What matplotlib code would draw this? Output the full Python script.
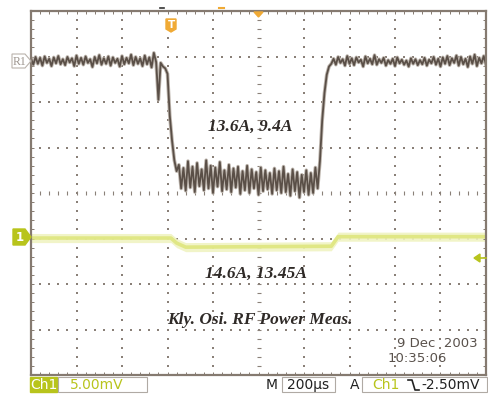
import numpy as np
import matplotlib
matplotlib.use("Agg")
import matplotlib.pyplot as plt
from matplotlib.patches import Rectangle, Polygon

# time base: 200 us/div, 10 divisions, one sample every 10 us
sample_step_us = 10

# reference trace R1 (vertical position in divisions)
r1_before = [2.96, 2.82, 2.99, 2.84, 2.97, 2.80, 3.00, 2.86, 2.95, 2.79, 2.98, 2.85, 3.01, 2.83, 2.94, 2.81, 2.99, 2.87, 2.96, 2.79,
             3.02, 2.84, 2.97, 2.82, 3.00, 2.86, 2.94, 2.77, 2.99, 2.85, 3.03, 2.82, 2.96, 2.84, 3.00, 2.80, 2.98, 2.86, 2.95, 2.78,
             3.01, 2.83, 2.97, 2.85, 3.04, 2.81, 2.99, 2.84, 2.96, 2.79, 3.02, 2.83, 2.98, 2.76, 3.08]
r1_fall = [2.88, 2.05, 2.86, 2.78, 2.74, 2.62, 1.70, 1.15, 0.72, 0.48]
r1_low = [0.62, 0.10, 0.55, 0.05, 0.70, 0.12, 0.58, 0.02, 0.66, 0.15, 0.52, 0.06, 0.72, 0.10, 0.60, 0.00, 0.56, 0.14, 0.68, 0.04,
          0.50, 0.08, 0.62, 0.02, 0.54, 0.12, 0.58, -0.02, 0.48, 0.06, 0.60, 0.00, 0.52, 0.10, 0.46, -0.04, 0.56, 0.04, 0.50, 0.08,
          0.44, -0.02, 0.54, 0.06, 0.48, 0.00, 0.58, 0.02, 0.42, -0.06, 0.52, 0.04, 0.46, -0.10, 0.40, 0.02, 0.50, -0.04, 0.44, 0.00,
          0.56, 0.10]
r1_rise = [0.70, 1.60, 2.20, 2.60, 2.78]
r1_after = [2.84, 2.95, 2.82, 2.99, 2.86, 2.94, 2.80, 3.01, 2.84, 2.96, 2.81, 2.98, 2.87, 2.93, 2.78, 3.00, 2.85, 2.95, 2.83, 3.03,
            2.82, 2.94, 2.86, 2.97, 2.80, 2.92, 2.84, 2.95, 2.79, 2.98, 2.85, 2.93, 2.82, 2.91, 2.78, 2.96, 2.84, 2.94, 2.81, 2.92,
            2.83, 2.97, 2.80, 2.93, 2.85, 2.99, 2.82, 2.95, 2.78, 2.98, 2.84, 3.01, 2.81, 2.96, 2.86, 3.02, 2.80, 2.99, 2.83, 2.95,
            2.77, 3.00, 2.84, 3.04, 2.79, 2.97, 2.85, 3.01, 2.82]

# channel 1 trace (divisions), breakpoints
ch1_t = [0, 615, 640, 680, 1320, 1350, 2000]
ch1_v = [-0.99, -0.99, -1.10, -1.19, -1.17, -0.96, -0.96]

labels_ch1 = ["Ch1", "5.00mV"]
label_time = "200\u00b5s"
label_trig = "-2.50mV"
date_text = ["9 Dec  2003", "10:35:06"]

r1 = np.array(r1_before + r1_fall + r1_low + r1_rise + r1_after)
t = np.arange(len(r1)) * sample_step_us

frame_col = "#857a70"
dot_col = "#8a8078"
ygreen = "#b8c41c"
orange = "#f0aa35"

fig = plt.figure(figsize=(4.88, 3.94), dpi=100)
ax = fig.add_axes([31/488, 19/394, 455/488, 364/394])
ax.set_xlim(0, 2000)
ax.set_ylim(-4, 4)

# dotted graticule
fine_y = np.arange(-4, 4.001, 0.2)
fine_x = np.arange(0, 2000.1, 40)
for gx in range(200, 2000, 200):
    if gx == 1000:
        ax.scatter(np.full(fine_y.size, gx), fine_y, marker="_", s=10, c=dot_col, linewidths=0.8)
    else:
        ax.scatter(np.full(fine_y.size, gx), fine_y, marker="s", s=1.3, c=dot_col, linewidths=0)
for gy in range(-3, 4):
    if gy == 0:
        ax.scatter(fine_x, np.full(fine_x.size, gy), marker="|", s=10, c=dot_col, linewidths=0.8)
    else:
        ax.scatter(fine_x, np.full(fine_x.size, gy), marker="s", s=1.3, c=dot_col, linewidths=0)

# frame with small ticks
for s in ax.spines.values():
    s.set_color(frame_col)
    s.set_linewidth(1.6)
ax.set_xticks(fine_x)
ax.set_yticks(fine_y)
ax.tick_params(direction="in", length=2.5, width=0.7, color=frame_col,
               top=True, right=True, labelbottom=False, labelleft=False)

# traces
ax.fill_between(ch1_t, np.array(ch1_v) - 0.1, np.array(ch1_v) + 0.1, color="#f0f3c2", lw=0, alpha=0.9)
ax.plot(ch1_t, ch1_v, color="#dfe67e", lw=2.6, alpha=0.9)
ax.plot(t, r1, color="#bdb5ad", lw=2.6)
ax.plot(t, r1, color="#5a4f47", lw=1.3)

# annotations
txt = dict(family="Liberation Serif", weight="bold", style="italic", fontsize=12.5, color="#2f2a27",
           ha="center", va="center", zorder=5)
ax.text(965, 1.45, "13.6A, 9.4A", **txt)
ax.text(991, -1.78, "14.6A, 13.45A", **txt)
ax.text(1007, -2.79, "Kly. Osi. RF Power Meas.", **txt)
ax.text(1965, -3.30, date_text[0], ha="right", va="center", fontsize=9.5, color="#5a524c", zorder=5)
ax.text(1699, -3.63, date_text[1], ha="center", va="center", fontsize=9.5, color="#5a524c", zorder=5)

# overlay in pixel coordinates for the side markers and status bar
ov = fig.add_axes([0, 0, 1, 1])
ov.set_xlim(0, 488)
ov.set_ylim(394, 0)
ov.axis("off")
ov.patch.set_alpha(0)

# R1 marker
ov.add_patch(Polygon([[12, 54], [25, 54], [31, 61], [25, 68], [12, 68]], closed=True,
                     fill=False, ec="#b9b2ab", lw=0.8))
ov.text(19, 61.5, "R1", ha="center", va="center", fontsize=8.5, color="#9d958e", family="Liberation Serif")

# channel 1 ground marker
ov.add_patch(Polygon([[13, 229], [25, 229], [31, 237], [25, 245], [13, 245]], closed=True, fc=ygreen, ec=ygreen))
ov.text(20, 237.5, "1", ha="center", va="center", fontsize=8.5, color="white", weight="bold")

# trigger level marker on the right
ov.add_patch(Polygon([[474, 258], [480, 254], [480, 262]], closed=True, fc=ygreen, ec=ygreen))
ov.plot([478, 486], [258, 258], color=ygreen, lw=1.2)

# trigger marker T and position marker
ov.add_patch(Polygon([[166, 19], [176, 19], [176, 29], [171, 32], [166, 29]], closed=True, fc=orange, ec=orange))
ov.text(171, 25, "T", ha="center", va="center", fontsize=7.5, color="white", weight="bold")
ov.add_patch(Polygon([[254, 12], [263, 12], [258.5, 17]], closed=True, fc=orange, ec=orange))
ov.plot([219, 224], [8, 8], color=orange, lw=1.5)
ov.plot([160, 164], [8, 8], color="#333333", lw=1.2)

# status bar
ov.add_patch(Rectangle((30, 377), 27, 15, fc=ygreen, ec=ygreen))
ov.text(43.5, 385, labels_ch1[0], ha="center", va="center", fontsize=10, color="white")
ov.add_patch(Rectangle((58, 377), 89, 15, fill=False, ec="#b0aaa4", lw=0.8))
ov.text(70, 385, labels_ch1[1], ha="left", va="center", fontsize=10, color=ygreen)
ov.text(272, 385, "M", ha="center", va="center", fontsize=10, color="#222222")
ov.add_patch(Rectangle((282, 377), 53, 15, fill=False, ec="#b0aaa4", lw=0.8))
ov.text(308.5, 385, label_time, ha="center", va="center", fontsize=10, color="#222222")
ov.text(355, 385, "A", ha="center", va="center", fontsize=10, color="#222222")
ov.add_patch(Rectangle((362, 377), 125, 15, fill=False, ec="#b0aaa4", lw=0.8))
ov.text(372, 385, "Ch1", ha="left", va="center", fontsize=10, color=ygreen)
ov.plot([408, 412, 415, 419], [380, 380, 390, 390], color="#222222", lw=1.2)
ov.text(421, 385, label_trig, ha="left", va="center", fontsize=10, color="#222222")

fig.savefig("out.png", dpi=100)
